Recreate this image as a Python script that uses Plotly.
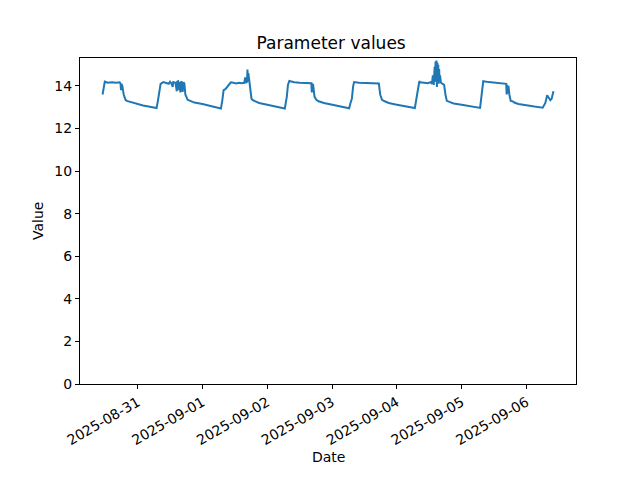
import plotly.graph_objects as go
import pandas as pd

# Hand-read samples (timestamp, value)
times = [
    # 08-30
    "2025-08-30 11:00", "2025-08-30 11:30", "2025-08-30 11:50", "2025-08-30 13:00", "2025-08-30 14:30",
    "2025-08-30 16:00", "2025-08-30 17:20", "2025-08-30 17:40", "2025-08-30 17:50", "2025-08-30 18:00",
    "2025-08-30 18:20", "2025-08-30 18:50", "2025-08-30 19:30", "2025-08-30 20:00", "2025-08-30 22:00",
    # 08-31
    "2025-08-31 00:00", "2025-08-31 02:00", "2025-08-31 04:00", "2025-08-31 06:00", "2025-08-31 07:00",
    "2025-08-31 07:30", "2025-08-31 08:00", "2025-08-31 08:30", "2025-08-31 09:30", "2025-08-31 10:30",
    "2025-08-31 11:30", "2025-08-31 12:00", "2025-08-31 12:30", "2025-08-31 13:00", "2025-08-31 13:10",
    "2025-08-31 14:00", "2025-08-31 14:30", "2025-08-31 14:40", "2025-08-31 15:00", "2025-08-31 15:20",
    "2025-08-31 15:30", "2025-08-31 15:50", "2025-08-31 16:00", "2025-08-31 16:20", "2025-08-31 16:40",
    "2025-08-31 17:00", "2025-08-31 17:20", "2025-08-31 17:40", "2025-08-31 18:30", "2025-08-31 19:30",
    "2025-08-31 21:00",
    # 09-01
    "2025-09-01 00:00", "2025-09-01 03:00", "2025-09-01 06:00", "2025-09-01 06:50", "2025-09-01 07:20",
    "2025-09-01 07:50", "2025-09-01 08:30", "2025-09-01 09:20", "2025-09-01 10:30", "2025-09-01 11:30",
    "2025-09-01 12:30", "2025-09-01 13:30", "2025-09-01 14:30", "2025-09-01 15:30", "2025-09-01 15:50",
    "2025-09-01 16:10", "2025-09-01 16:30", "2025-09-01 16:40", "2025-09-01 16:50", "2025-09-01 17:00",
    "2025-09-01 17:20", "2025-09-01 17:40", "2025-09-01 18:10", "2025-09-01 18:40",
    "2025-09-01 19:30", "2025-09-01 21:00",
    # 09-02
    "2025-09-02 00:00", "2025-09-02 03:00", "2025-09-02 06:00", "2025-09-02 06:30", "2025-09-02 07:15",
    "2025-09-02 07:40", "2025-09-02 08:10", "2025-09-02 10:00", "2025-09-02 12:00", "2025-09-02 14:00",
    "2025-09-02 16:00", "2025-09-02 16:20", "2025-09-02 16:30", "2025-09-02 16:40", "2025-09-02 17:00",
    "2025-09-02 17:30", "2025-09-02 18:10", "2025-09-02 19:00", "2025-09-02 21:00",
    # 09-03
    "2025-09-03 00:00", "2025-09-03 03:00", "2025-09-03 06:00", "2025-09-03 06:20", "2025-09-03 06:50",
    "2025-09-03 07:20", "2025-09-03 07:50", "2025-09-03 08:10", "2025-09-03 10:00", "2025-09-03 12:00",
    "2025-09-03 14:00", "2025-09-03 16:00", "2025-09-03 17:20", "2025-09-03 17:50", "2025-09-03 18:30",
    "2025-09-03 19:30", "2025-09-03 21:00",
    # 09-04
    "2025-09-04 00:00", "2025-09-04 03:00", "2025-09-04 06:00", "2025-09-04 06:40", "2025-09-04 07:30",
    "2025-09-04 08:20", "2025-09-04 08:40", "2025-09-04 10:00", "2025-09-04 11:30", "2025-09-04 12:30",
    "2025-09-04 13:00", "2025-09-04 13:20", "2025-09-04 13:40", "2025-09-04 14:00", "2025-09-04 14:10",
    "2025-09-04 14:20", "2025-09-04 14:30", "2025-09-04 14:40", "2025-09-04 14:50", "2025-09-04 15:00",
    "2025-09-04 15:10", "2025-09-04 15:20", "2025-09-04 15:30", "2025-09-04 15:40", "2025-09-04 15:50",
    "2025-09-04 16:00", "2025-09-04 16:20", "2025-09-04 16:40", "2025-09-04 17:00", "2025-09-04 17:30",
    "2025-09-04 18:00", "2025-09-04 18:30", "2025-09-04 19:30", "2025-09-04 21:00",
    # 09-05
    "2025-09-05 00:00", "2025-09-05 03:00", "2025-09-05 06:00", "2025-09-05 06:50", "2025-09-05 07:30",
    "2025-09-05 08:00", "2025-09-05 10:00", "2025-09-05 12:00", "2025-09-05 14:00", "2025-09-05 16:00",
    "2025-09-05 16:30", "2025-09-05 16:40", "2025-09-05 16:50", "2025-09-05 17:00", "2025-09-05 17:20",
    "2025-09-05 17:40", "2025-09-05 18:10", "2025-09-05 18:50", "2025-09-05 19:30", "2025-09-05 21:00",
    # 09-06
    "2025-09-06 00:00", "2025-09-06 03:00", "2025-09-06 06:00", "2025-09-06 07:00", "2025-09-06 07:40",
    "2025-09-06 08:10", "2025-09-06 08:50", "2025-09-06 09:20", "2025-09-06 09:40", "2025-09-06 10:00",
]
values = [
    # 08-30
    13.6, 13.95, 14.2, 14.15, 14.17,
    14.15, 14.17, 14.1, 13.8, 14.1,
    14.0, 13.6, 13.35, 13.3, 13.22,
    # 08-31
    13.15, 13.08, 13.03, 12.98, 12.96,
    13.3, 13.85, 14.1, 14.18, 14.15,
    14.1, 14.2, 14.12, 13.95, 14.18,
    14.15, 13.75, 14.2, 14.22, 13.8,
    14.2, 13.7, 14.15, 14.22, 13.72,
    14.18, 14.1, 13.6, 13.35, 13.3,
    13.22,
    # 09-01
    13.15, 13.05, 12.98, 12.94, 13.3,
    13.8, 13.85, 14.0, 14.17, 14.15,
    14.12, 14.15, 14.13, 14.15, 14.4,
    14.15, 14.2, 14.77, 14.2, 14.6,
    14.15, 13.8, 13.4, 13.33,
    13.28, 13.2,
    # 09-02
    13.12, 13.04, 12.97, 12.94, 13.5,
    14.05, 14.23, 14.17, 14.15, 14.15,
    14.12, 14.13, 13.7, 14.1, 14.05,
    13.5, 13.35, 13.28, 13.2,
    # 09-03
    13.12, 13.04, 12.97, 12.95, 13.2,
    13.4, 14.0, 14.18, 14.15, 14.15,
    14.13, 14.15, 14.12, 13.6, 13.35,
    13.28, 13.2,
    # 09-04
    13.12, 13.04, 12.98, 12.96, 13.6,
    14.22, 14.17, 14.15, 14.13, 14.18,
    14.1, 14.5, 14.05, 14.9, 14.2,
    15.15, 14.3, 15.2, 13.95, 15.1,
    14.4, 15.0, 14.1, 14.8, 14.2,
    14.5, 14.15, 14.12, 14.1, 14.05,
    13.6, 13.3, 13.25, 13.18,
    # 09-05
    13.12, 13.05, 13.0, 12.97, 13.7,
    14.22, 14.18, 14.15, 14.12, 14.12,
    14.1, 13.6, 14.05, 13.65, 14.0,
    13.6, 13.3, 13.28, 13.22, 13.15,
    # 09-06
    13.08, 13.03, 12.98, 13.2, 13.56,
    13.45, 13.33, 13.4, 13.7, 13.75,
]
y_ticks = [0, 2, 4, 6, 8, 10, 12, 14]
x_ticks = ["2025-08-31", "2025-09-01", "2025-09-02", "2025-09-03",
           "2025-09-04", "2025-09-05", "2025-09-06"]

t = pd.to_datetime(times)
span = t.max() - t.min()
x_range = [t.min() - span * 0.05, t.max() + span * 0.05]
vmax, vmin = max(values), min(values)
y_range = [0, vmax + 0.05 * (vmax - vmin)]

# page has an 8px body margin; figure is shrunk so the axes land where the reference has them
OFF = 8
W, H = 640 - OFF, 480 - OFF
L, R, T, B = 80 - OFF, 64, 58 - OFF, 96
PW, PH = W - L - R, H - T - B
font = "DejaVu Sans, sans-serif"
fig = go.Figure(go.Scatter(x=t, y=values, mode="lines",
                           line=dict(color="#1f77b4", width=2), showlegend=False))
fig.update_layout(
    width=W, height=H,
    margin=dict(l=L, r=R, t=T, b=B, autoexpand=False),
    paper_bgcolor="white", plot_bgcolor="white",
    font=dict(family=font, size=14, color="black"),
    title=dict(text="Parameter values", x=(L + PW / 2) / W, xref="paper", xanchor="center",
               y=1 - (43 - OFF) / H, yanchor="middle", font=dict(size=17)),
    annotations=[
        dict(text="Date", xref="paper", yref="paper", x=0.5, y=-(457 - 384) / PH,
             xanchor="center", yanchor="middle", showarrow=False, font=dict(size=14)),
        dict(text="Value", xref="paper", yref="paper", x=-(80 - 38) / PW, y=0.5,
             xanchor="center", yanchor="middle", textangle=-90, showarrow=False, font=dict(size=14)),
    ],
)
fig.update_xaxes(
    range=x_range, tickvals=pd.to_datetime(x_ticks), ticktext=x_ticks,
    tickangle=-30, ticks="outside", ticklen=4, tickcolor="black",
    showline=True, linecolor="black", linewidth=1, mirror=True,
    showgrid=False, zeroline=False, automargin=False,
)
fig.update_yaxes(
    range=y_range, tickvals=y_ticks, ticks="outside", ticklen=4, tickcolor="black",
    showline=True, linecolor="black", linewidth=1, mirror=True,
    showgrid=False, zeroline=False, automargin=False,
)
fig.write_html("out.html")
